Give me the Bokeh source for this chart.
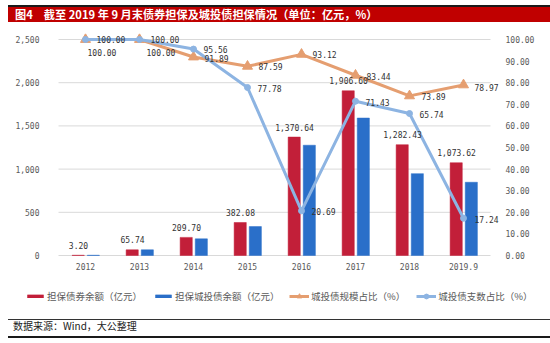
from bokeh.plotting import figure
from bokeh.models import (ColumnDataSource, FactorRange, Range1d, LinearAxis, NumeralTickFormatter,
                          FixedTicker, LabelSet, Legend, LegendItem, Div)
from bokeh.layouts import column
from bokeh.transform import dodge
from bokeh.core.properties import value
from bokeh.embed import file_html
from bokeh.resources import INLINE

# ---------------- data ----------------
categories = ["2012", "2013", "2014", "2015", "2016", "2017", "2018", "2019.9"]
guarantee_bonds = [3.20, 65.74, 209.70, 382.08, 1370.64, 1906.60, 1282.43, 1073.62]      # 担保债券余额（亿元）
guarantee_chengtou = [3.20, 65.74, 192.70, 334.70, 1276.30, 1590.90, 947.60, 847.80]     # 担保城投债余额（亿元）
scale_share = [100.00, 100.00, 91.89, 87.59, 93.12, 83.44, 73.89, 78.97]                 # 城投债规模占比（%）
count_share = [100.00, 100.00, 95.56, 77.78, 20.69, 71.43, 65.74, 17.24]                 # 城投债支数占比（%）
left_ticks = [0, 500, 1000, 1500, 2000, 2500]
right_ticks = [0, 10, 20, 30, 40, 50, 60, 70, 80, 90, 100]

# ---------------- label placement (pixels) ----------------
scale_dx = [2, 7, 11, 11, 11, 11, 12, 11]
scale_dy = [-13, -13, -1, 0, 0, -1, -1, -3]
count_dx = [11, 11, 10, 10, 10, 10, 10, 11]
count_dy = [0, 0, 0, -1, -1, -1, -1, -1]

RED = "#C21F39"
BLUE = "#2A6FC9"
ORANGE = "#E59E70"
LBLUE = "#8DB4E2"
NUMFONT = "DejaVu Sans Mono"
CJK = "Noto Sans CJK SC"

src = ColumnDataSource(dict(
    cat=categories,
    bonds=guarantee_bonds,
    ct=guarantee_chengtou,
    scale=scale_share,
    count=count_share,
    bonds_txt=["{:,.2f}".format(v) for v in guarantee_bonds],
    scale_txt=["{:.2f}".format(v) for v in scale_share],
    count_txt=["{:.2f}".format(v) for v in count_share],
    scale_dx=scale_dx, scale_dy=scale_dy,
    count_dx=count_dx, count_dy=count_dy,
))

# geometry: value axis 216 px for 0..2500, 6 px headroom, 57 px below zero for labels + legend
px_per_unit = 216 / 2500.0
y_start = -57 / px_per_unit
y_end = 2500 + 6 / px_per_unit
pct_start = -57 / 2.16
pct_end = 100 + 6 / 2.16
pad = 58 / 54.0   # room each side of the categories (for the legend and value axes)

p = figure(x_range=FactorRange(*categories, range_padding=pad, range_padding_units="absolute"),
           y_range=Range1d(y_start, y_end),
           width=550, height=293,
           min_border_left=0, min_border_right=2, min_border_top=10, min_border_bottom=4,
           output_backend="svg", toolbar_location=None)
p.extra_y_ranges = {"pct": Range1d(pct_start, pct_end)}
p.outline_line_color = None
p.background_fill_color = "white"
p.border_fill_color = "white"

# grid (between the first and last category edges)
p.xgrid.grid_line_color = None
p.ygrid.grid_line_color = None
p.segment(x0=[0] * len(left_ticks), x1=[len(categories)] * len(left_ticks),
          y0=left_ticks, y1=left_ticks, line_color="#D9D9D9", line_width=1)

# axes
def style_axis(ax):
    ax.axis_line_color = None
    ax.major_tick_line_color = None
    ax.minor_tick_line_color = None
    ax.major_label_text_font = NUMFONT
    ax.major_label_text_font_size = "8px"
    ax.major_label_text_color = "#595959"

xax = p.xaxis[0]
style_axis(xax)
xax.fixed_location = 0
xax.major_label_standoff = 1

yax = p.yaxis[0]
style_axis(yax)
yax.fixed_location = 0
yax.ticker = FixedTicker(ticks=left_ticks)
yax.formatter = NumeralTickFormatter(format="0,0")
yax.major_label_standoff = 13

right = LinearAxis(y_range_name="pct", ticker=FixedTicker(ticks=right_ticks),
                   formatter=NumeralTickFormatter(format="0.00"), fixed_location=len(categories))
style_axis(right)
right.major_label_standoff = 9
p.add_layout(right, "right")

# bars
r_red = p.vbar(x=dodge("cat", -0.135, range=p.x_range), top="bonds", width=0.225, source=src,
               fill_color=RED, line_color=RED, line_width=0.5)
r_blue = p.vbar(x=dodge("cat", 0.145, range=p.x_range), top="ct", width=0.225, source=src,
                fill_color=BLUE, line_color=BLUE, line_width=0.5)

# lines
r_ol = p.line(x="cat", y="scale", source=src, y_range_name="pct", line_color=ORANGE, line_width=3)
r_om = p.scatter(x="cat", y="scale", source=src, y_range_name="pct", marker="triangle", size=10,
                 fill_color=ORANGE, line_color=ORANGE)
r_bl = p.line(x="cat", y="count", source=src, y_range_name="pct", line_color=LBLUE, line_width=3)
r_bm = p.scatter(x="cat", y="count", source=src, y_range_name="pct", marker="circle", size=6,
                 fill_color=LBLUE, line_color=LBLUE)

# labels
lab_kw = dict(text_font=value(NUMFONT), text_font_size="8px", text_color="#333333")
p.add_layout(LabelSet(x="cat", y="bonds", text="bonds_txt", source=src, x_offset=-7, y_offset=10,
                      text_align="center", text_baseline="middle", **lab_kw))
p.add_layout(LabelSet(x="cat", y="scale", text="scale_txt", source=src, y_range_name="pct",
                      x_offset="scale_dx", y_offset="scale_dy",
                      text_align="left", text_baseline="middle", **lab_kw))
p.add_layout(LabelSet(x="cat", y="count", text="count_txt", source=src, y_range_name="pct",
                      x_offset="count_dx", y_offset="count_dy",
                      text_align="left", text_baseline="middle", **lab_kw))

# legend (two horizontal groups: bar swatches and line keys)
def style_legend(lg, gw, gh):
    lg.label_text_font = CJK
    lg.label_text_font_size = "9.5px"
    lg.label_text_color = "#595959"
    lg.glyph_width = gw
    lg.glyph_height = gh
    lg.label_height = 14
    lg.label_standoff = 2
    lg.spacing = 11
    lg.padding = 0
    lg.margin = 0
    lg.border_line_color = None
    lg.background_fill_alpha = 0

leg1 = Legend(items=[
    LegendItem(label="担保债券余额（亿元）", renderers=[r_red]),
    LegendItem(label="担保城投债余额（亿元）", renderers=[r_blue]),
], orientation="horizontal", location=(25, 9))
style_legend(leg1, 20, 4)
leg2 = Legend(items=[
    LegendItem(label="城投债规模占比（%）", renderers=[r_ol, r_om]),
    LegendItem(label="城投债支数占比（%）", renderers=[r_bl, r_bm]),
], orientation="horizontal", location=(289, 9))
style_legend(leg2, 20, 12)
p.add_layout(leg1)
p.add_layout(leg2)

title_html = (
    '<div style="position:relative;width:550px;height:23px;">'
    '<div style="position:absolute;left:8px;top:5px;width:542px;height:2px;background:#1a1a1a;"></div>'
    '<div style="position:absolute;left:8px;top:7px;width:542px;height:15px;background:#C00000;"></div>'
    '<div style="position:absolute;left:15px;top:7px;height:15px;line-height:15px;color:#ffffff;'
    "font-family:'Noto Sans CJK SC';font-weight:bold;font-size:11.2px;white-space:nowrap;\">"
    '图4<span style="margin-left:11px;">截至 2019 年 9 月末债券担保及城投债担保情况（单位：亿元，%）</span></div>'
    '</div>'
)
source_html = (
    '<div style="position:relative;width:550px;height:27px;">'
    '<div style="position:absolute;left:8px;top:3px;width:542px;height:1px;background:#333333;"></div>'
    '<div style="position:absolute;left:13px;top:4px;height:12px;line-height:12px;color:#222222;'
    "font-family:'Noto Sans CJK SC';font-size:10px;white-space:nowrap;\">数据来源：Wind，大公整理</div>"
    '<div style="position:absolute;left:8px;top:20px;width:542px;height:2px;background:#1a1a1a;"></div>'
    '</div>'
)
top_div = Div(text=title_html, width=550, height=23, margin=0)
bot_div = Div(text=source_html, width=550, height=27, margin=0)

layout = column(top_div, p, bot_div, spacing=0)
open("out.html", "w").write(file_html(layout, INLINE))
